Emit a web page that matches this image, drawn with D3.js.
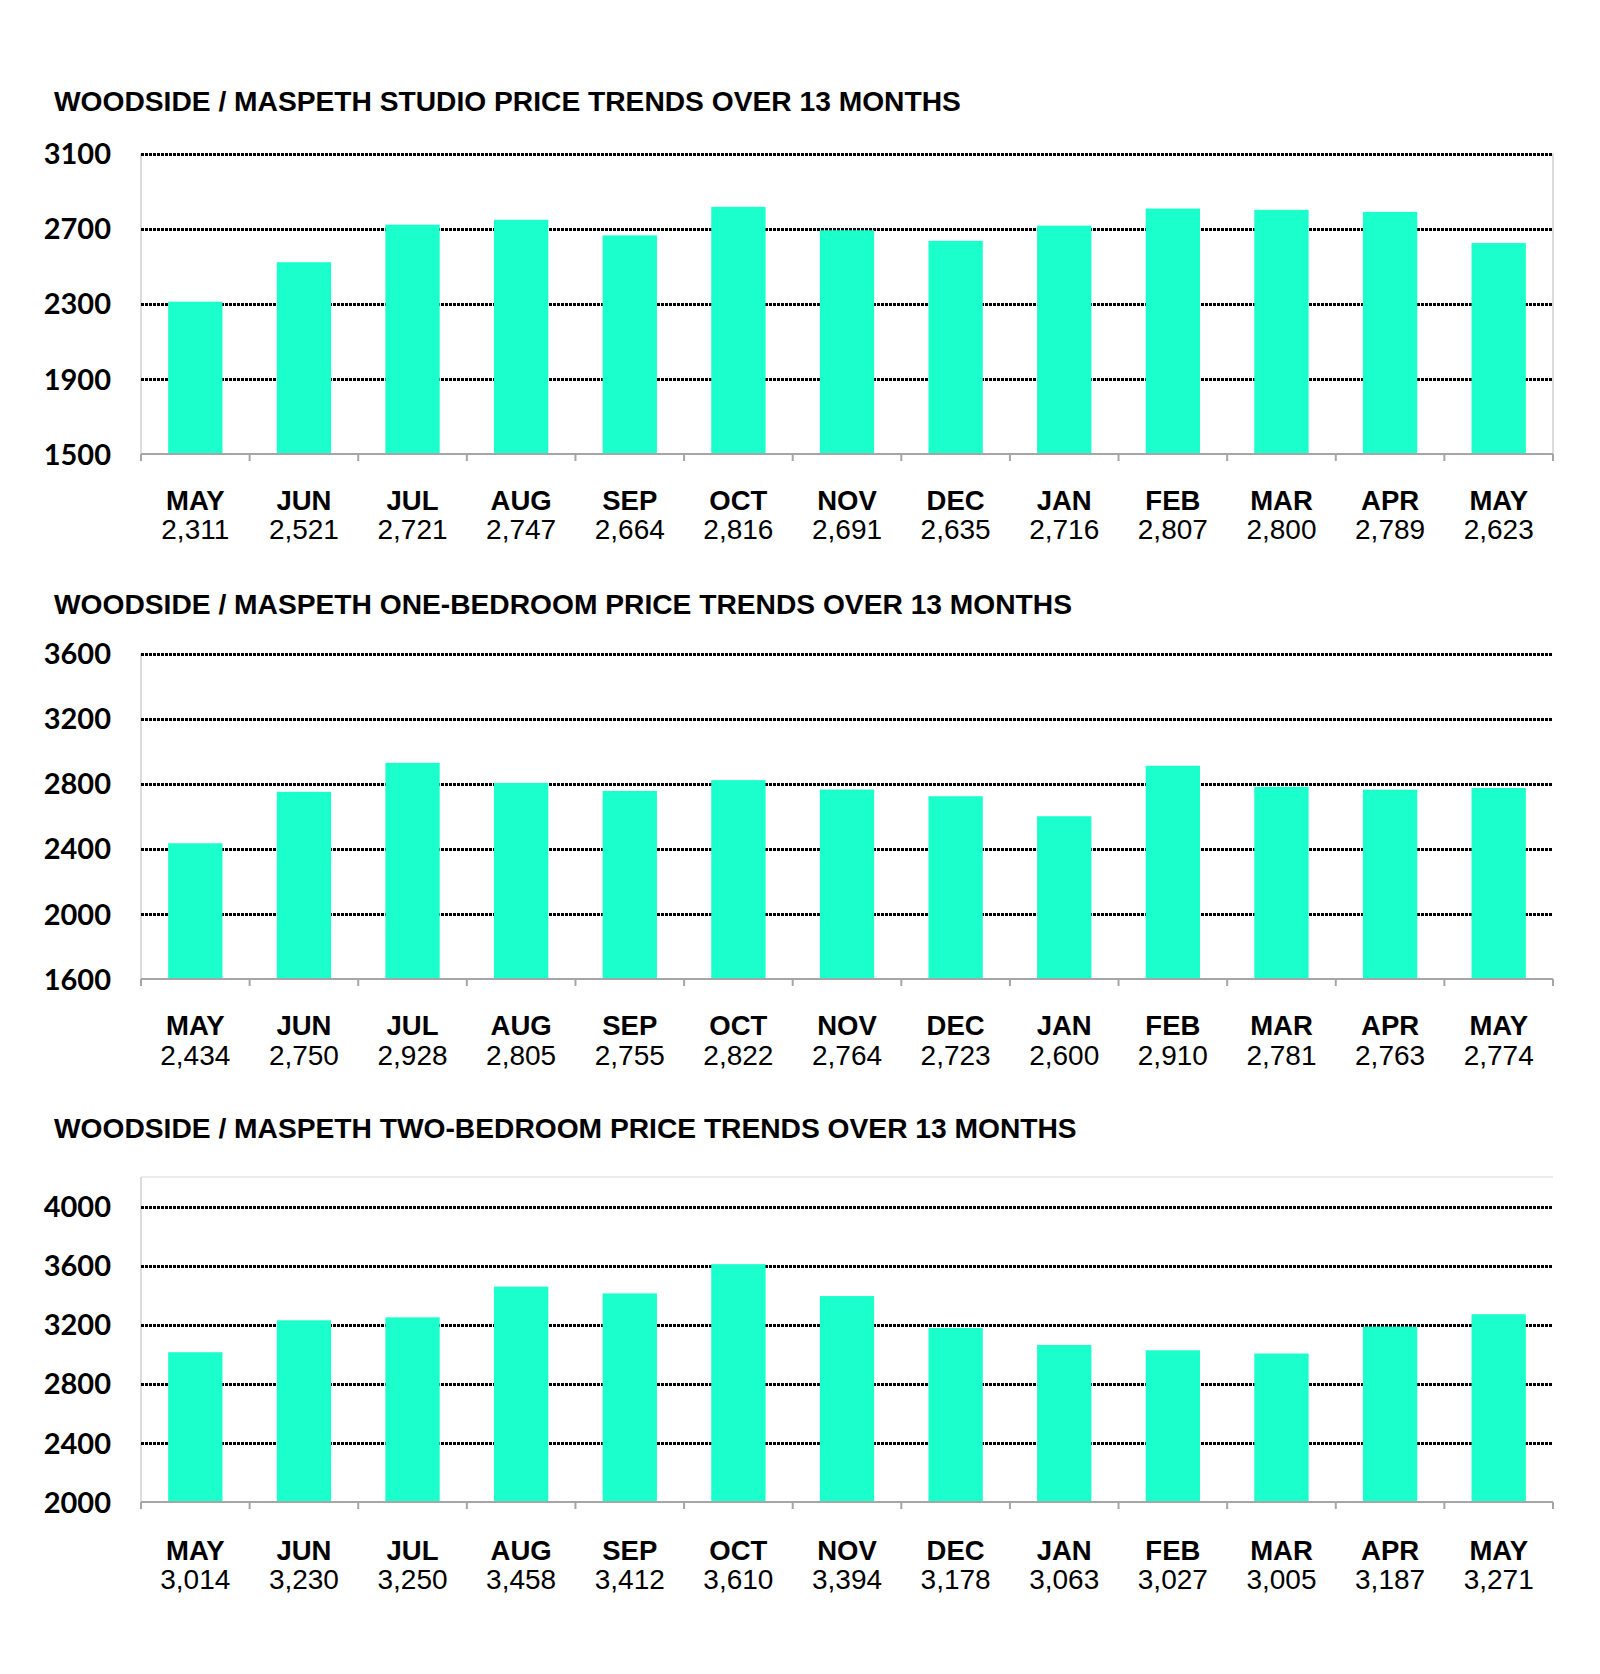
<!DOCTYPE html>
<html>
<head>
<meta charset="utf-8">
<script src="https://cdn.jsdelivr.net/npm/d3@7"></script>
<style>
  html, body { margin: 0; padding: 0; background: #fff; }
  svg { display: block; }
</style>
</head>
<body>
<svg id="chart" width="1600" height="1674"></svg>
<script>
const months = ["MAY","JUN","JUL","AUG","SEP","OCT","NOV","DEC","JAN","FEB","MAR","APR","MAY"];
const studioValues = [2311, 2521, 2721, 2747, 2664, 2816, 2691, 2635, 2716, 2807, 2800, 2789, 2623];
const oneBedValues = [2434, 2750, 2928, 2805, 2755, 2822, 2764, 2723, 2600, 2910, 2781, 2763, 2774];
const twoBedValues = [3014, 3230, 3250, 3458, 3412, 3610, 3394, 3178, 3063, 3027, 3005, 3187, 3271];
const studioTicks = [1500, 1900, 2300, 2700, 3100];
const oneBedTicks = [1600, 2000, 2400, 2800, 3200, 3600];
const twoBedTicks = [2000, 2400, 2800, 3200, 3600, 4000];
const titles = [
  "WOODSIDE / MASPETH STUDIO PRICE TRENDS OVER 13 MONTHS",
  "WOODSIDE / MASPETH ONE-BEDROOM PRICE TRENDS OVER 13 MONTHS",
  "WOODSIDE / MASPETH TWO-BEDROOM PRICE TRENDS OVER 13 MONTHS"
];

const svg = d3.select("#chart");
const BAR = "#1AFFCC";
const left = 141, right = 1553;

const panels = [
  { title: titles[0], values: studioValues, ticks: studioTicks, domain: [1500, 3100],
    titleY: 111, top: 153.5, bottom: 454, monthY: 510, valueY: 539, topLine: false, rightLine: true },
  { title: titles[1], values: oneBedValues, ticks: oneBedTicks, domain: [1600, 3600],
    titleY: 614, top: 653.5, bottom: 979, monthY: 1035, valueY: 1065, topLine: false, rightLine: false },
  { title: titles[2], values: twoBedValues, ticks: twoBedTicks, domain: [2000, 4200],
    titleY: 1138, top: 1177, bottom: 1502, monthY: 1560, valueY: 1589, topLine: true, rightLine: false }
];

const fmt = d3.format(",");

panels.forEach(p => {
  const g = svg.append("g");
  const x = d3.scaleBand().domain(d3.range(months.length)).range([left, right]).paddingInner(0.5).paddingOuter(0.25);
  const xb = d3.scaleBand().domain(d3.range(months.length)).range([left, right]);
  const y = d3.scaleLinear().domain(p.domain).range([p.bottom, p.top]);

  // title
  g.append("text")
    .attr("x", 54).attr("y", p.titleY)
    .attr("font-family", "'Liberation Sans', Arial, sans-serif")
    .attr("font-weight", "bold").attr("font-size", 28.2)
    .attr("fill", "#000")
    .text(p.title);

  // plot border lines
  if (p.topLine) {
    g.append("line").attr("x1", left).attr("x2", right).attr("y1", p.top).attr("y2", p.top)
      .attr("stroke", "#e6e6e6").attr("stroke-width", 1.5);
  }
  g.append("line").attr("x1", left).attr("x2", left).attr("y1", p.top).attr("y2", p.bottom)
    .attr("stroke", "#d0d0d0").attr("stroke-width", 1.5);
  if (p.rightLine) {
    g.append("line").attr("x1", right).attr("x2", right).attr("y1", p.top).attr("y2", p.bottom)
      .attr("stroke", "#d0d0d0").attr("stroke-width", 1.5);
  }

  // gridlines (dotted)
  g.selectAll(".grid").data(p.ticks.filter(t => t !== p.domain[0])).enter().append("line")
    .attr("x1", left).attr("x2", right)
    .attr("y1", d => Math.round(y(d))).attr("y2", d => Math.round(y(d)))
    .attr("stroke", "#000").attr("stroke-width", 3)
    .attr("stroke-dasharray", "2.5,1.5")
    .attr("shape-rendering", "crispEdges");

  // bars
  g.selectAll(".bar").data(p.values).enter().append("rect")
    .attr("x", (d, i) => x(i))
    .attr("width", x.bandwidth())
    .attr("y", d => y(d))
    .attr("height", d => p.bottom - y(d))
    .attr("fill", BAR);

  // y axis labels
  const yAxis = d3.axisLeft(y).tickValues(p.ticks).tickSize(0).tickPadding(0).tickFormat(d3.format("d"));
  const ya = g.append("g").attr("transform", `translate(111,0)`).call(yAxis);
  ya.select(".domain").remove();
  ya.selectAll("text")
    .attr("font-family", "Lato, 'Open Sans', sans-serif")
    .attr("font-weight", "bold").attr("font-size", 29)
    .attr("fill", "#000").attr("dy", "0.35em");

  // x axis line + ticks at band boundaries
  g.append("line").attr("x1", left).attr("x2", right).attr("y1", p.bottom).attr("y2", p.bottom)
    .attr("stroke", "#a6a6a6").attr("stroke-width", 2);
  const bounds = d3.range(months.length + 1).map(i => i < months.length ? xb(i) : right);
  g.selectAll(".xt").data(bounds).enter().append("line")
    .attr("x1", d => d).attr("x2", d => d)
    .attr("y1", p.bottom).attr("y2", p.bottom + 7)
    .attr("stroke", "#a6a6a6").attr("stroke-width", 2);

  // month labels & values
  g.selectAll(".m").data(months).enter().append("text")
    .attr("x", (d, i) => xb(i) + xb.bandwidth() / 2)
    .attr("y", p.monthY)
    .attr("text-anchor", "middle")
    .attr("font-family", "'Liberation Sans', Arial, sans-serif")
    .attr("font-weight", "bold").attr("font-size", 27.5)
    .attr("fill", "#000")
    .text(d => d);
  g.selectAll(".v").data(p.values).enter().append("text")
    .attr("x", (d, i) => xb(i) + xb.bandwidth() / 2)
    .attr("y", p.valueY)
    .attr("text-anchor", "middle")
    .attr("font-family", "'Liberation Sans', Arial, sans-serif")
    .attr("font-size", 28)
    .attr("fill", "#000")
    .text(d => fmt(d));
});
</script>
</body>
</html>
